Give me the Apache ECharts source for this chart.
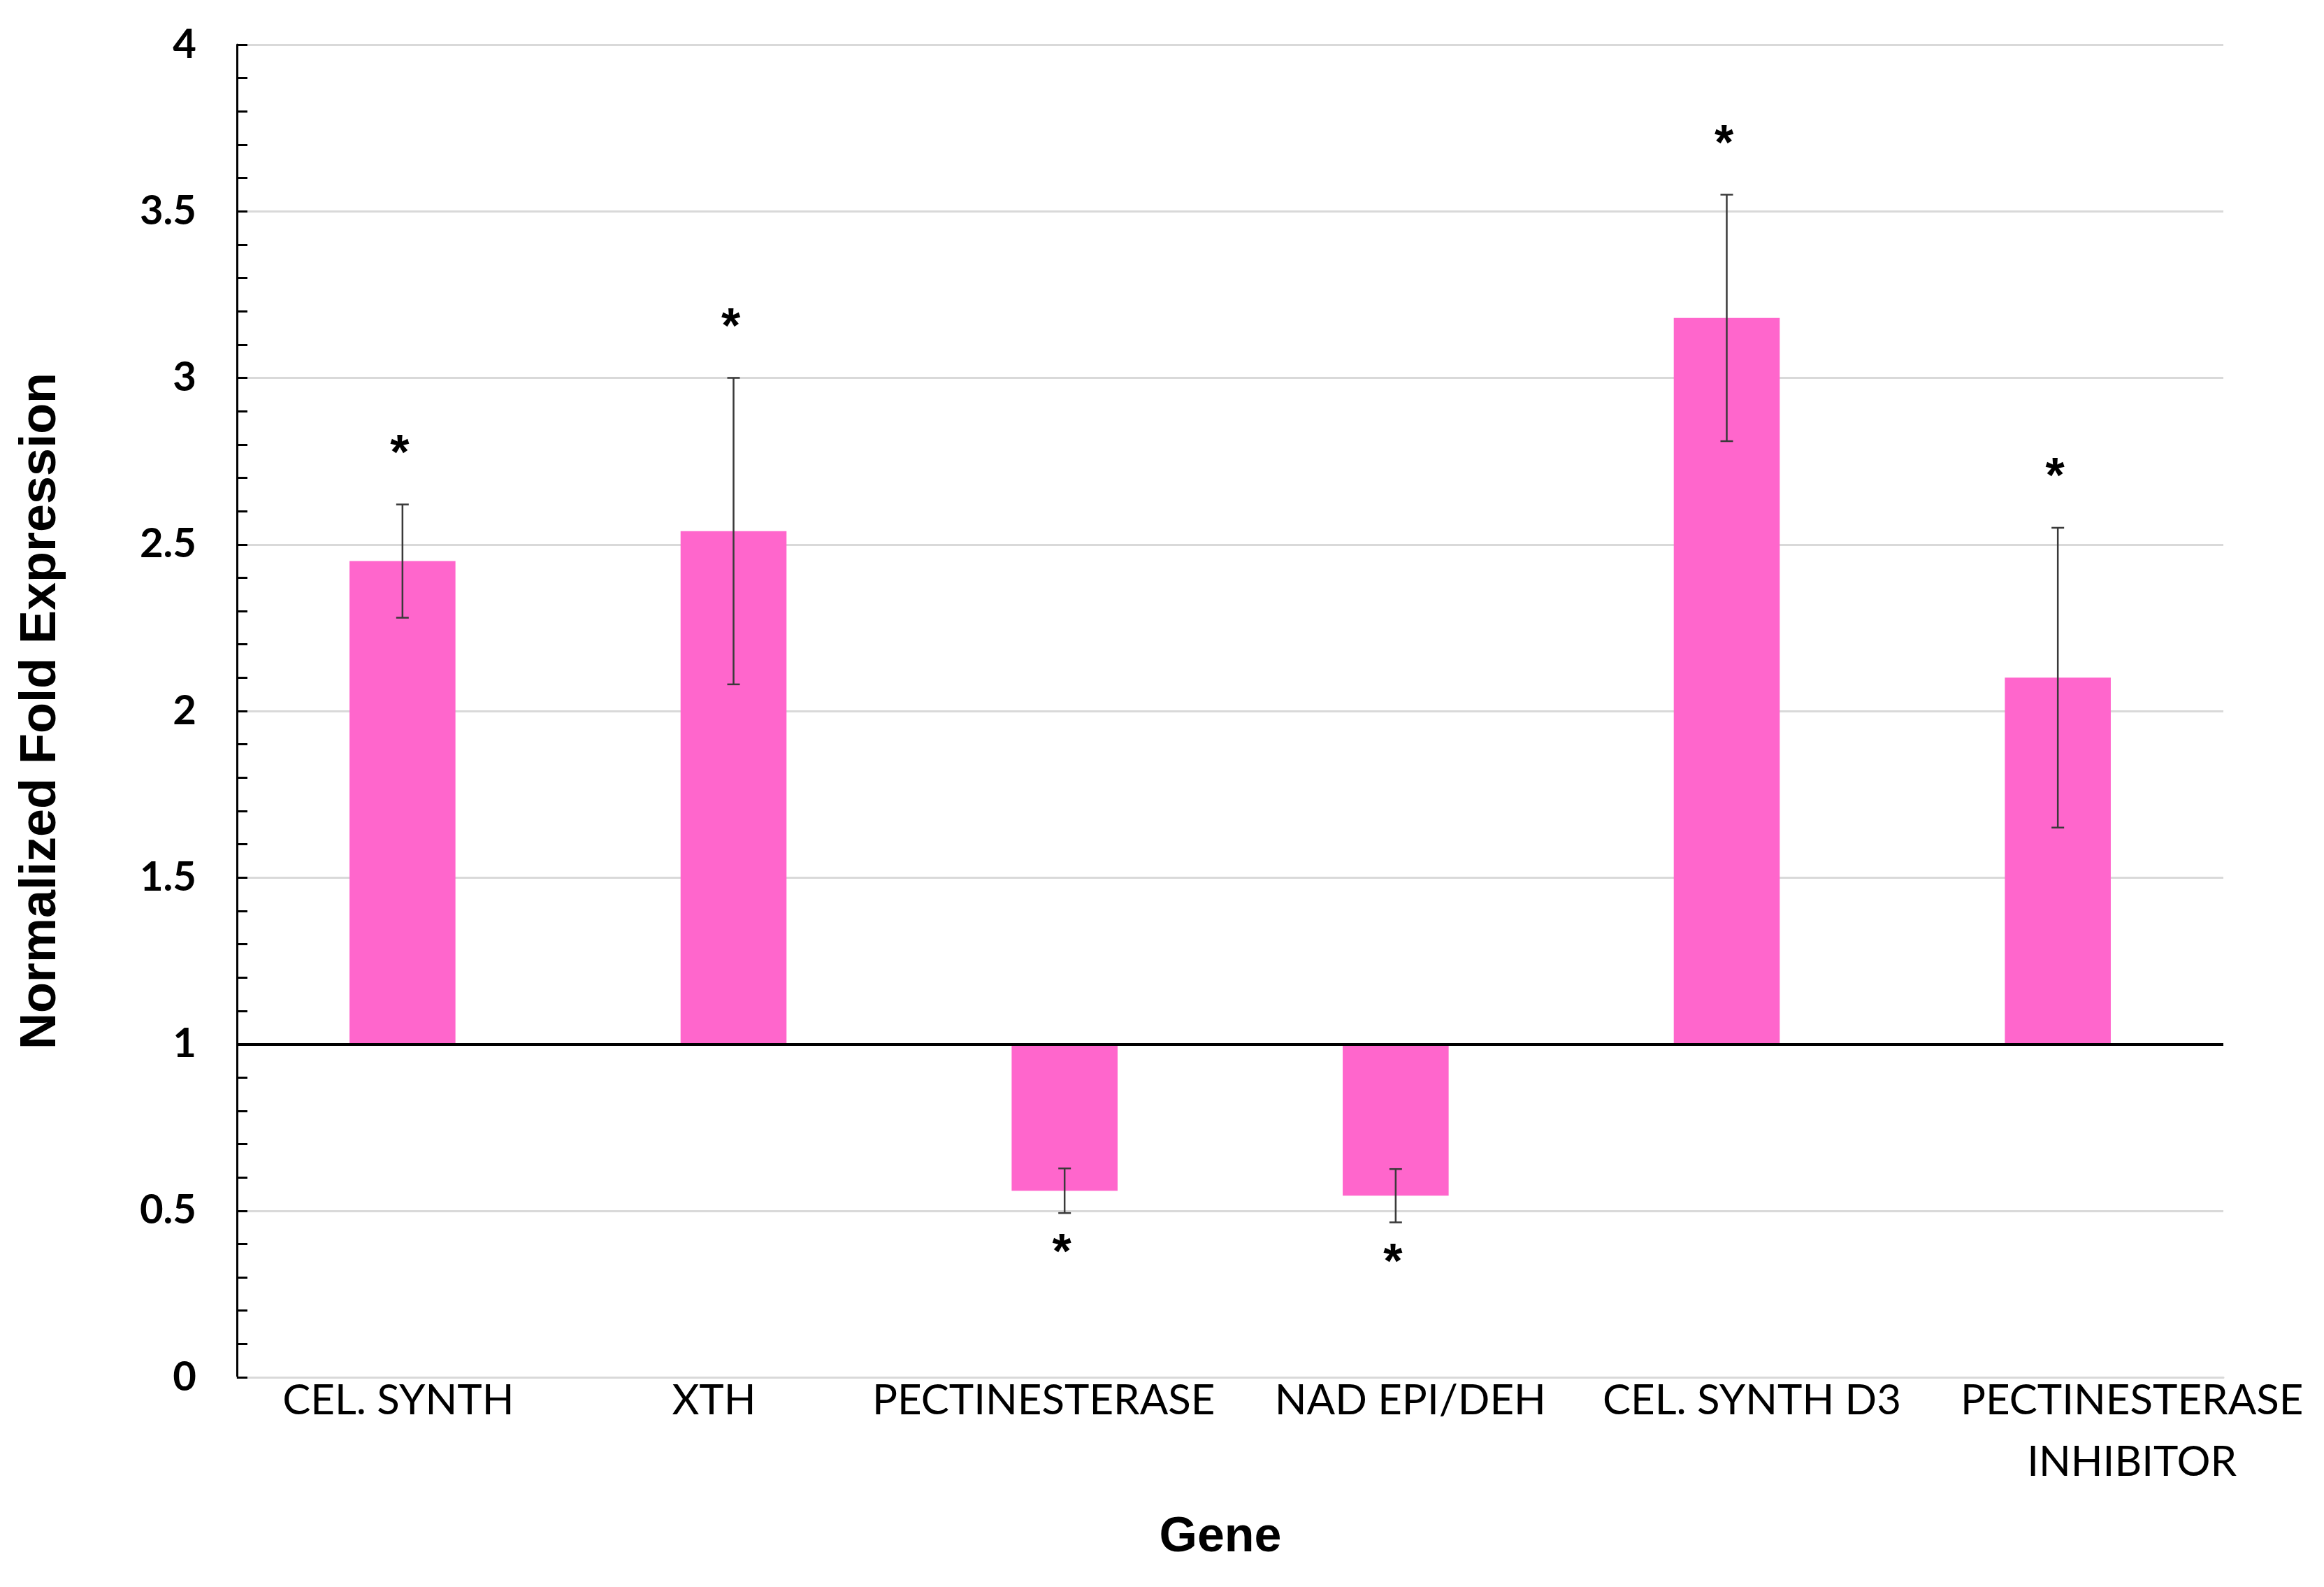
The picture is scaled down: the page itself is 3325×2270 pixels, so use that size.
<!DOCTYPE html>
<html>
<head>
<meta charset="utf-8">
<script src="https://cdn.jsdelivr.net/npm/echarts@6/dist/echarts.min.js"></script>
<style>
html,body{margin:0;padding:0;background:#fff;}
#chart{width:3325px;height:2270px;}
</style>
</head>
<body>
<div id="chart"></div>
<script>
const categories = ['CEL. SYNTH', 'XTH', 'PECTINESTERASE', 'NAD EPI/DEH', 'CEL. SYNTH D3', 'PECTINESTERASE\nINHIBITOR'];
const foldValues = [2.45, 2.54, 0.56, 0.545, 3.18, 2.10];
const errorValues = [0.17, 0.46, 0.067, 0.08, 0.37, 0.45];
const significant = [true, true, true, true, true, true];
const baselineValue = 1;
const yTicks = { min: 0, max: 4, interval: 0.5 };

const barColor = '#FF66CC';
const chart = echarts.init(document.getElementById('chart'));

const barData = categories.map((c, i) => [i, foldValues[i]]);
const errData = categories.map((c, i) => [i, foldValues[i], errorValues[i], significant[i] ? 1 : 0]);

// horizontal nudges of the category labels (px), as placed in the original figure
const labelNudge = [-6, -28, -30, 21, 36, 106];
const xAxisData = categories.map((c, i) => {
  const n = labelNudge[i];
  return {
    value: c,
    textStyle: { padding: n >= 0 ? [0, 0, 0, 2 * n] : [0, -2 * n, 0, 0] }
  };
});

function renderBar(params, api) {
  const i = api.value(0), v = api.value(1);
  const p0 = api.coord([i, baselineValue]);
  const p1 = api.coord([i, v]);
  const w = api.size([1, 0])[0] * 0.32;
  return {
    type: 'rect',
    shape: { x: p0[0] - w / 2, y: Math.min(p0[1], p1[1]), width: w, height: Math.abs(p0[1] - p1[1]) },
    style: { fill: barColor }
  };
}

function renderErr(params, api) {
  const i = api.value(0), v = api.value(1), e = api.value(2), sig = api.value(3);
  const top = api.coord([i, v + e]);
  const bot = api.coord([i, v - e]);
  const cw = 9;
  const style = { stroke: '#3a3a3a', lineWidth: 2.5 };
  const children = [
    { type: 'line', shape: { x1: top[0], y1: top[1], x2: bot[0], y2: bot[1] }, style },
    { type: 'line', shape: { x1: top[0] - cw, y1: top[1], x2: top[0] + cw, y2: top[1] }, style },
    { type: 'line', shape: { x1: bot[0] - cw, y1: bot[1], x2: bot[0] + cw, y2: bot[1] }, style }
  ];
  if (sig) {
    const up = v >= baselineValue;
    const anchor = up ? top : bot;
    children.push({
      type: 'text',
      x: anchor[0] - 4,
      y: up ? anchor[1] - 70 : anchor[1] + 60,
      style: {
        text: '*', fill: '#000', font: 'bold 70px "Liberation Sans", Arial',
        align: 'center', verticalAlign: 'middle'
      }
    });
  }
  return { type: 'group', children };
}

const option = {
  backgroundColor: '#ffffff',
  animation: false,
  grid: { left: 339, right: 144, top: 64, bottom: 300, containLabel: false },
  xAxis: {
    type: 'category',
    data: xAxisData,
    boundaryGap: true,
    name: 'Gene',
    nameLocation: 'middle',
    nameGap: 195,
    nameTextStyle: { fontFamily: '"Liberation Sans", Arial', fontWeight: 'bold', fontSize: 70, color: '#000', padding: [0, 28, 0, 0] },
    axisLine: { show: true, lineStyle: { color: '#d9d9d9', width: 3 } },
    axisTick: { show: false },
    axisLabel: {
      interval: 0, margin: -10, fontFamily: 'Lato', fontSize: 60, color: '#000', lineHeight: 88
    },
    splitLine: { show: false }
  },
  yAxis: {
    type: 'value',
    min: yTicks.min, max: yTicks.max, interval: yTicks.interval,
    name: 'Normalized Fold Expression',
    nameLocation: 'middle',
    nameGap: 244,
    nameTextStyle: { fontFamily: '"Liberation Sans", Arial', fontWeight: 'bold', fontSize: 72, color: '#000' },
    axisLine: { show: true, lineStyle: { color: '#000', width: 3 } },
    axisTick: { show: true, inside: true, length: 15, lineStyle: { color: '#000', width: 3 } },
    minorTick: { show: true, splitNumber: 5, length: 15, lineStyle: { color: '#000', width: 3 } },
    axisLabel: { margin: 58, fontFamily: 'Lato', fontWeight: 'bold', fontSize: 58, color: '#000' },
    splitLine: { show: true, lineStyle: { color: '#d9d9d9', width: 3 } }
  },
  series: [
    {
      type: 'custom', name: 'bars', renderItem: renderBar, data: barData,
      encode: { x: 0, y: 1 }, z: 2,
      markLine: {
        silent: true, symbol: 'none', animation: false,
        label: { show: false },
        lineStyle: { color: '#000', width: 4, type: 'solid' },
        data: [{ yAxis: baselineValue }]
      }
    },
    {
      type: 'custom', name: 'errors', renderItem: renderErr, data: errData,
      encode: { x: 0, y: 1 }, z: 4
    }
  ]
};
chart.setOption(option);
</script>
</body>
</html>
